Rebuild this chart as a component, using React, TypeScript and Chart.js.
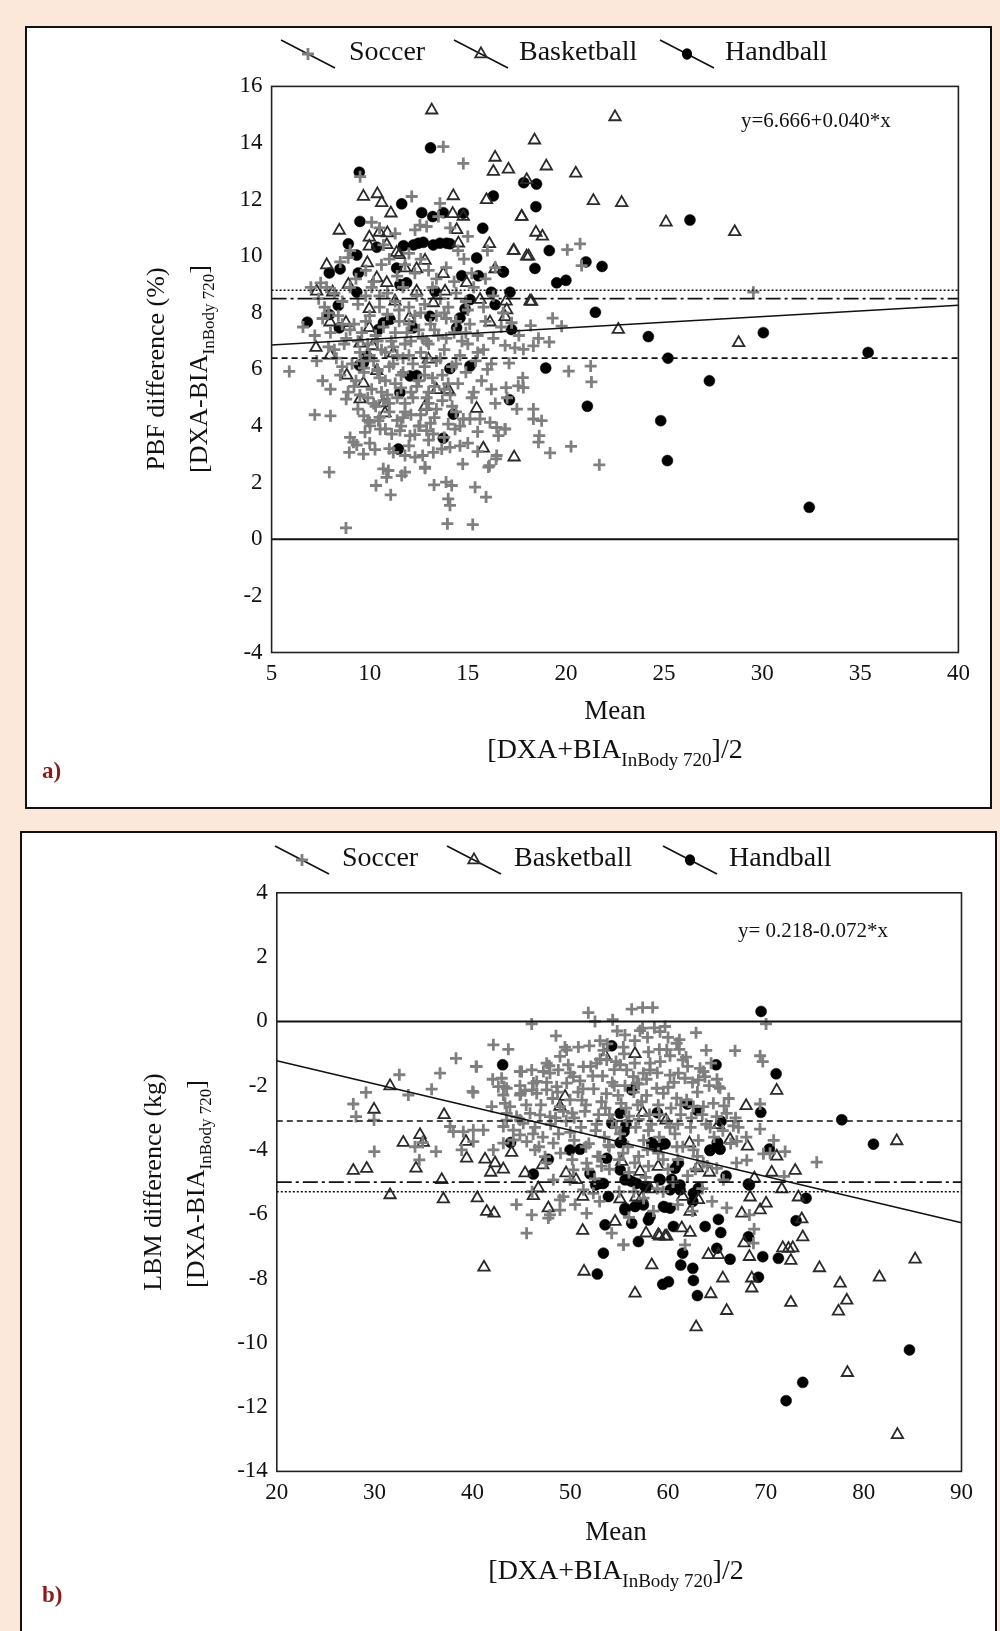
import React, { useEffect, useRef } from "react";
import { Chart, registerables } from "chart.js";

Chart.register(...registerables);

// ---------------- Panel a data (PBF) ----------------
const aXTicks = [5, 10, 15, 20, 25, 30, 35, 40];
const aYTicks = [-4, -2, 0, 2, 4, 6, 8, 10, 12, 14, 16];
const aDottedLevel = 8.8;
const aDashDotLevel = 8.5;
const aDashedLevel = 6.4;
const aRegression = [6.666, 0.04]; // intercept, slope
const aEquation = "y=6.666+0.040*x";

const aSoccer: number[][] = [
  [13.75, 13.87], [14.77, 13.28], [9.51, 12.81], [12.14, 12.11], [13.58, 11.87], [12.9, 11.05], [12.31, 10.93], [12.56, 11.1], [10.1, 11.2], [10.5, 11.0], [13.5, 11.4], [14.1, 11.0], [15.0, 10.7], [11.3, 10.8],
  [8.5, 9.8], [8.9, 9.95], [9.3, 9.2], [9.8, 9.5], [10.2, 9.1], [10.6, 9.7], [11.0, 9.9], [11.4, 9.3], [11.8, 9.7], [12.3, 9.4], [12.6, 9.9], [13.0, 9.5], [13.4, 9.2], [13.9, 9.6], [14.3, 9.1], [14.8, 9.9], [15.2, 9.4], [15.9, 9.2], [16.4, 9.6], [7.5, 9.06], [7.8, 8.9], [20.07, 10.23], [20.72, 10.44], [20.8, 9.67], [10.7, 10.4], [9.0, 10.2], [12.0, 10.1], [14.5, 10.2], [16.0, 10.2],
  [7.0, 8.9], [7.4, 8.5], [7.7, 8.2], [8.2, 8.7], [8.6, 8.4], [9.0, 8.9], [9.4, 8.3], [9.8, 8.6], [10.1, 8.9], [10.5, 8.2], [10.9, 8.7], [11.3, 8.4], [11.7, 8.9], [12.0, 8.2], [12.4, 8.6], [12.8, 8.3], [13.2, 8.9], [13.6, 8.5], [14.0, 8.2], [14.4, 8.7], [14.9, 8.4], [15.3, 8.9], [15.8, 8.2], [16.3, 8.6], [16.8, 8.0], [29.55, 8.73], [7.9, 8.0],
  [6.6, 7.5], [7.2, 7.2], [7.6, 7.8], [8.0, 7.3], [8.4, 7.9], [8.8, 7.1], [9.2, 7.6], [9.6, 7.3], [10.0, 7.9], [10.3, 7.2], [10.7, 7.5], [11.1, 7.0], [11.5, 7.7], [11.9, 7.3], [12.3, 7.9], [12.7, 7.1], [13.1, 7.6], [13.5, 7.2], [13.9, 7.8], [14.3, 7.3], [14.7, 7.0], [15.1, 7.6], [15.5, 7.2], [15.9, 7.7], [16.3, 7.1], [16.7, 7.5], [17.23, 7.65], [18.2, 7.55], [19.32, 7.81], [19.78, 7.53], [17.6, 7.2], [18.6, 7.1], [10.9, 7.95], [12.0, 7.6], [13.3, 7.4],
  [7.3, 6.3], [7.9, 6.8], [8.3, 6.4], [8.7, 6.9], [9.1, 6.2], [9.5, 6.6], [9.9, 6.9], [10.2, 6.3], [10.6, 6.7], [11.0, 6.1], [11.4, 6.5], [11.8, 6.9], [12.2, 6.2], [12.6, 6.6], [13.0, 6.9], [13.4, 6.3], [13.8, 6.7], [14.2, 6.1], [14.6, 6.5], [15.0, 6.9], [15.4, 6.3], [15.8, 6.7], [16.2, 6.2], [16.9, 6.85], [17.4, 6.76], [17.83, 6.71], [18.34, 6.83], [19.15, 6.97], [17.1, 6.22], [21.26, 6.12], [10.0, 6.5], [11.2, 6.8], [12.9, 6.4], [8.6, 6.1], [9.7, 6.05],
  [5.9, 5.93], [7.6, 5.6], [8.0, 5.3], [8.5, 5.8], [8.9, 5.2], [9.3, 5.6], [9.7, 5.9], [10.1, 5.3], [10.5, 5.7], [10.9, 5.1], [11.3, 5.5], [11.7, 5.9], [12.1, 5.2], [12.5, 5.6], [12.9, 5.0], [13.3, 5.4], [13.7, 5.8], [14.1, 5.1], [14.5, 5.5], [14.9, 5.9], [15.3, 5.2], [15.7, 5.6], [16.2, 5.3], [17.8, 5.71], [16.95, 5.36], [17.57, 5.42], [17.83, 5.36], [20.14, 5.94], [21.3, 5.56], [10.4, 5.95], [11.6, 5.35], [12.8, 5.8], [9.9, 5.0],
  [8.0, 4.36], [8.8, 4.95], [9.5, 5.1], [9.7, 4.36], [10.0, 4.13], [10.3, 4.7], [10.7, 4.9], [11.0, 4.5], [11.4, 4.2], [11.8, 4.8], [12.1, 4.4], [12.5, 4.0], [12.9, 4.6], [13.3, 4.3], [13.7, 4.9], [14.0, 4.07], [14.4, 4.5], [14.77, 4.25], [15.11, 4.25], [15.62, 4.25], [16.13, 4.13], [16.47, 3.95], [16.9, 3.89], [16.56, 3.66], [18.34, 4.6], [18.34, 4.25], [18.76, 4.19], [10.5, 4.31], [11.6, 4.0], [13.0, 4.8], [7.2, 4.4],
  [8.96, 3.07], [9.17, 3.43], [9.34, 3.33], [9.68, 3.01], [10.27, 3.17], [9.76, 3.78], [10.02, 4.01], [10.44, 4.19], [10.53, 3.89], [11.12, 3.72], [11.54, 3.84], [12.05, 3.66], [12.56, 4.01], [12.9, 3.84], [13.24, 3.72], [14.35, 3.89], [11.2, 3.07], [11.8, 2.96], [12.31, 2.9], [12.7, 2.96], [13.24, 3.07], [13.67, 3.19], [14.09, 3.25], [16.9, 3.9], [18.64, 3.66], [18.6, 3.43], [19.19, 3.05], [20.26, 3.28], [16.47, 2.96], [15.0, 3.4], [15.5, 3.1],
  [7.94, 2.37], [8.79, 0.4], [10.69, 2.49], [10.86, 2.19], [10.95, 2.43], [11.63, 2.25], [11.8, 2.37], [10.32, 1.9], [11.07, 1.57], [12.82, 2.51], [13.28, 1.92], [13.89, 2.02], [14.18, 1.9], [14.0, 1.43], [14.09, 1.2], [14.74, 2.66], [15.37, 1.84], [15.93, 1.49], [16.1, 2.6], [16.44, 2.84], [13.96, 0.55], [15.25, 0.52], [21.7, 2.63], [16.05, 2.55], [12.82, 2.55],
  [9.2, 5.4], [9.6, 6.3], [10.4, 6.0], [10.8, 5.6], [11.2, 6.2], [11.6, 5.8], [12.0, 6.5], [12.4, 5.4], [12.8, 6.1], [13.2, 5.7], [13.6, 6.4], [14.0, 5.5], [14.4, 6.2], [10.2, 4.8], [10.6, 5.2], [11.0, 4.8], [11.4, 5.0], [11.8, 4.5], [12.2, 5.0], [12.6, 4.4], [13.0, 5.2], [13.4, 4.6], [13.8, 5.3], [14.2, 4.7], [9.4, 4.6], [9.9, 4.2], [10.8, 3.9], [11.7, 4.3], [12.3, 3.7], [13.1, 4.1], [13.8, 3.6], [14.6, 4.0], [9.4, 7.0], [9.8, 7.7], [10.4, 7.0], [10.8, 6.6], [11.3, 7.3], [11.7, 6.4], [12.1, 7.0], [12.5, 7.4], [12.9, 7.0], [13.4, 7.9], [13.9, 7.1], [14.4, 7.7], [14.9, 7.3], [9.0, 7.4], [8.6, 7.6], [8.2, 6.7], [10.5, 8.6], [11.5, 8.1], [12.6, 8.0], [13.8, 8.0], [15.0, 8.1], [15.5, 6.6], [16.0, 6.0], [15.2, 5.0], [16.4, 4.8], [17.0, 5.0], [17.5, 4.6], [9.0, 3.6], [10.0, 3.4], [11.0, 3.2], [12.0, 3.3], [13.0, 3.5], [14.6, 3.3], [15.5, 3.8],
];

const aBasketball: number[][] = [
  [13.16, 15.16], [16.39, 13.49], [16.3, 12.99], [17.07, 13.07], [9.68, 12.11], [10.39, 12.2], [10.61, 11.89], [11.08, 11.52], [14.26, 12.13], [14.23, 11.5], [14.77, 11.4], [15.95, 11.99], [17.75, 11.4], [8.45, 10.91], [9.98, 10.67], [10.49, 10.84], [10.9, 10.82], [9.98, 10.35], [10.87, 10.4], [11.37, 10.13], [11.51, 10.05], [12.82, 9.85], [14.43, 10.93], [14.52, 10.46], [16.1, 10.44], [17.32, 10.2], [18.0, 10.0], [7.81, 9.69], [9.88, 9.76], [11.8, 9.58], [12.39, 9.55], [16.39, 9.55], [8.91, 9.0], [10.36, 9.23], [10.87, 9.06], [13.75, 9.38], [14.94, 9.06], [7.3, 8.76], [8.11, 8.73], [12.39, 8.76], [13.84, 8.76], [15.62, 8.47], [16.95, 8.41], [18.17, 8.41], [9.98, 8.14], [11.29, 8.41], [13.24, 8.35], [7.98, 7.67], [8.79, 7.65], [12.02, 7.82], [16.13, 7.67], [9.98, 7.47], [7.26, 6.77], [7.98, 6.5], [9.51, 6.92], [10.15, 6.83], [11.2, 6.57], [12.99, 6.36], [8.83, 5.79], [9.68, 5.51], [10.36, 5.95], [13.41, 5.28], [14.01, 5.28], [9.51, 4.95], [10.7, 4.81], [12.82, 4.69], [15.45, 4.62], [10.78, 4.46], [15.79, 3.21], [17.36, 2.9],
  [22.5, 14.92], [18.4, 14.1], [19.0, 13.18], [20.5, 12.93], [21.4, 11.96], [22.84, 11.89], [25.1, 11.2], [28.6, 10.86], [17.74, 11.4], [18.47, 10.84], [18.8, 10.7], [17.35, 10.2], [18.1, 10.0], [18.25, 8.4], [16.98, 8.1], [16.9, 7.86], [22.67, 7.41], [28.8, 6.94], [18.0, 12.7],
];

const aHandball: number[][] = [
  [9.47, 12.97], [13.1, 13.83], [9.5, 11.23], [11.63, 11.85], [12.65, 11.54], [13.21, 11.4], [13.75, 11.54], [14.77, 11.52], [16.3, 12.13], [15.76, 10.99], [17.85, 12.6], [18.5, 12.55], [18.47, 11.75], [26.32, 11.28], [19.15, 10.2], [16.8, 9.45], [18.42, 9.57], [21.02, 9.8], [21.84, 9.64], [19.53, 9.06], [20.0, 9.15], [17.15, 8.73], [21.5, 8.02], [17.23, 7.41], [24.2, 7.16], [30.06, 7.3], [25.2, 6.4], [35.4, 6.6], [18.97, 6.05], [27.31, 5.6], [17.12, 4.93], [21.09, 4.7], [24.83, 4.19], [25.17, 2.78], [32.4, 1.13],
  [8.91, 10.44], [10.36, 10.32], [11.72, 10.37], [12.23, 10.4], [12.48, 10.46], [12.73, 10.49], [13.24, 10.4], [13.58, 10.46], [13.92, 10.46], [14.09, 10.44], [9.34, 10.04], [15.45, 9.94], [7.94, 9.41], [8.49, 9.55], [9.42, 9.41], [11.37, 9.58], [14.69, 9.31], [15.54, 9.31], [16.81, 9.45], [11.88, 9.06], [11.54, 9.0], [13.33, 8.76], [16.2, 8.73], [9.34, 8.73], [8.4, 8.26], [15.11, 8.47], [14.86, 8.14], [16.39, 8.29], [6.82, 7.67], [7.94, 7.94], [8.45, 7.47], [11.03, 7.77], [10.44, 7.41], [12.22, 7.47], [14.43, 7.47], [14.6, 7.82], [13.07, 7.88], [10.7, 7.65], [9.85, 6.47], [9.68, 6.24], [9.47, 6.15], [14.09, 6.03], [15.11, 6.12], [12.39, 5.79], [12.05, 5.77], [11.54, 5.18], [14.26, 4.42], [13.75, 3.57], [11.46, 3.19],
];

// ---------------- Panel b data (LBM) ----------------
const bXTicks = [20, 30, 40, 50, 60, 70, 80, 90];
const bYTicks = [-14, -12, -10, -8, -6, -4, -2, 0, 2, 4];
const bDashedLevel = -3.1;
const bDashDotLevel = -5.0;
const bDottedLevel = -5.3;
const bRegression = [0.218, -0.072];
const bEquation = "y= 0.218-0.072*x";

const bSoccer: number[][] = [
  [46.06, -0.08], [51.85, 0.27], [52.53, 0.0], [54.34, 0.05], [56.28, 0.38], [57.4, 0.43], [58.43, 0.43], [70.02, -0.08],
  [48.54, -0.45], [55.6, -0.42], [57.13, -0.29], [57.4, -0.21], [59.18, -0.32], [59.69, -0.16], [62.86, -0.35], [42.14, -0.73], [43.67, -0.87], [49.46, -0.8], [50.83, -0.8], [51.95, -0.76], [53.04, -0.6], [53.79, -0.7], [55.43, -0.8], [55.5, -1.01], [59.11, -0.87], [60.88, -0.68], [61.15, -0.87], [66.85, -0.91], [49.63, -0.89], [56.6, -0.6], [58.0, -0.95], [60.2, -1.07], [61.5, -1.2], [61.84, -1.11], [61.16, -0.57], [59.87, -0.88],
  [38.32, -1.15], [40.37, -1.4], [36.69, -1.61], [32.53, -1.66], [40.43, -1.41], [42.07, -1.8], [45.03, -1.56], [46.06, -1.51], [47.25, -1.56], [44.86, -1.56], [47.86, -1.38], [48.95, -1.09], [48.78, -1.51], [47.93, -1.61], [46.57, -1.87], [47.59, -1.3], [50.32, -1.72], [51.34, -1.41], [52.7, -1.3], [53.73, -1.2], [53.04, -1.18], [54.68, -1.25], [55.77, -1.51], [56.45, -1.72], [57.47, -1.61], [58.15, -1.51], [60.2, -1.67], [61.05, -1.61], [61.73, -1.77], [63.27, -1.46], [63.78, -1.72], [69.41, -1.07], [69.68, -1.25], [42.99, -1.77], [46.23, -1.92], [49.64, -1.92], [51.0, -1.85], [52.3, -1.7], [54.3, -1.9], [55.1, -1.35], [59.2, -1.25], [62.5, -1.9], [64.4, -1.3], [49.8, -1.35], [58.16, -1.3], [56.8, -1.92], [63.1, -1.82], [63.61, -1.56],
  [27.82, -2.57], [28.1, -2.96], [29.12, -2.21], [29.94, -3.07], [33.45, -2.29], [35.83, -2.11], [40.09, -2.21], [43.23, -2.03], [40.02, -2.18], [41.97, -2.65], [42.65, -2.03], [43.5, -2.08], [44.86, -2.0], [45.37, -2.15], [43.16, -2.29], [43.33, -2.55], [44.86, -2.29], [43.5, -2.86], [44.93, -2.24], [46.13, -2.13], [46.57, -2.24], [47.59, -2.13], [48.61, -2.03], [43.84, -2.65], [45.89, -2.86], [46.91, -2.91], [47.93, -2.96], [48.95, -2.65], [49.98, -2.44], [50.8, -2.2], [51.6, -2.6], [52.4, -2.1], [53.2, -2.5], [54.0, -2.9], [54.9, -2.3], [55.7, -2.7], [56.5, -2.2], [57.3, -2.5], [58.1, -2.9], [58.84, -2.08], [59.52, -2.24], [60.3, -2.7], [60.88, -2.39], [61.9, -2.44], [62.59, -2.65], [63.61, -2.65], [64.63, -2.55], [64.97, -2.96], [65.99, -2.86], [65.31, -2.08], [69.41, -2.57], [50.2, -2.85], [52.9, -2.9], [56.0, -2.95], [57.8, -2.3], [59.0, -2.6], [61.3, -2.9], [51.2, -2.45], [53.7, -2.25], [55.2, -2.55], [65.15, -2.03], [65.73, -2.63], [54.5, -2.0], [57.0, -1.95], [60.0, -2.05],
  [34.13, -3.9], [34.91, -3.77], [37.71, -3.27], [38.05, -3.43], [39.07, -3.43], [40.09, -3.38], [41.12, -3.38], [40.09, -3.74], [43.16, -3.79], [43.16, -3.27], [44.18, -3.38], [44.52, -2.96], [45.2, -3.17], [43.5, -3.07], [44.18, -3.69], [44.86, -3.53], [45.55, -3.74], [44.86, -3.07], [48.27, -3.79], [46.4, -3.3], [47.2, -3.6], [48.0, -3.2], [48.8, -3.5], [49.6, -3.1], [50.4, -3.7], [51.1, -3.3], [51.9, -3.8], [52.7, -3.2], [53.5, -3.6], [54.3, -3.1], [55.1, -3.5], [55.9, -3.9], [56.7, -3.3], [57.5, -3.7], [58.3, -3.2], [59.1, -3.6], [59.9, -3.1], [60.7, -3.5], [61.5, -3.9], [62.3, -3.3], [63.1, -3.7], [63.9, -3.2], [64.7, -3.6], [65.6, -3.4], [66.4, -3.8], [67.2, -3.3], [68.0, -3.6], [69.4, -3.35], [70.8, -3.7], [66.68, -3.25], [67.03, -3.73], [50.0, -3.45], [53.9, -3.85], [57.0, -3.05], [61.0, -3.2], [46.8, -3.9],
  [29.97, -4.05], [34.57, -4.31], [36.28, -4.05], [38.9, -4.0], [42.14, -4.0], [46.4, -4.0], [47.42, -4.21], [48.27, -4.93], [49.98, -4.93], [50.32, -4.62], [51.68, -4.41], [53.05, -4.21], [54.0, -4.6], [55.0, -4.3], [56.0, -4.7], [57.0, -4.2], [58.0, -4.5], [59.0, -4.1], [60.0, -4.6], [61.0, -4.3], [62.0, -4.8], [63.0, -4.2], [64.0, -4.5], [64.98, -4.57], [65.66, -4.93], [67.0, -4.4], [68.05, -4.32], [69.75, -4.12], [70.43, -4.1], [71.97, -4.05], [75.2, -4.38], [71.87, -4.82], [52.5, -4.9], [57.7, -4.85],
  [46.06, -6.02], [47.93, -6.02], [48.95, -5.87], [47.76, -6.12], [45.54, -6.59], [51.68, -5.97], [54.24, -6.59], [55.43, -6.95], [48.95, -5.55], [49.3, -5.45], [51.34, -5.24], [52.36, -5.35], [50.5, -5.7], [53.0, -5.6], [55.0, -5.3], [56.0, -6.1], [57.5, -5.5], [58.5, -5.9], [59.5, -5.3], [61.0, -5.7], [62.5, -5.9], [63.5, -5.2], [64.5, -5.6], [66.0, -5.8], [68.32, -6.02], [68.8, -6.46], [68.73, -6.9], [61.74, -6.95], [55.44, -6.95], [46.1, -5.3], [44.5, -5.7],
  [47.0, -2.6], [48.2, -2.4], [49.3, -2.8], [50.4, -3.0], [51.5, -2.8], [52.6, -3.4], [53.6, -2.7], [54.7, -3.3], [55.8, -3.1], [56.9, -2.6], [58.0, -3.4], [59.1, -2.9], [60.2, -3.3], [61.3, -2.6], [62.4, -3.0], [63.5, -2.9], [64.3, -3.3], [47.6, -1.9], [48.7, -2.2], [50.0, -1.6], [51.3, -2.1], [52.1, -1.4], [53.3, -1.7], [54.5, -1.5], [55.6, -2.0], [56.6, -1.3], [57.8, -1.8], [58.9, -1.6], [60.6, -1.9], [62.0, -1.4], [63.0, -2.2], [64.2, -2.0], [49.0, -4.1], [50.2, -4.3], [51.6, -3.9], [52.8, -4.2], [54.0, -3.9], [55.4, -4.1], [56.6, -4.4], [57.9, -4.0], [59.5, -4.3], [60.9, -3.9], [62.6, -4.0], [63.6, -4.4], [45.5, -2.6], [46.2, -3.5], [47.5, -4.4], [48.5, -3.0], [53.4, -0.9], [54.8, -0.3], [57.9, -0.5], [58.6, -0.2], [60.0, -0.5], [63.9, -0.9], [65.0, -1.8], [66.2, -2.4], [66.9, -3.0], [51.8, -4.6], [53.2, -4.5], [56.5, -5.3], [58.9, -5.2], [60.5, -5.0], [62.8, -4.6],
];

const bBasketball: number[][] = [
  [31.58, -2.01], [29.94, -2.74], [27.82, -4.64], [29.19, -4.58], [31.58, -5.4], [32.93, -3.77], [34.64, -3.53], [34.98, -3.77], [34.23, -4.57], [37.1, -2.91], [36.86, -4.93], [37.03, -5.53], [39.34, -3.74], [39.41, -4.26], [40.5, -5.5], [41.29, -4.29], [41.87, -4.7], [42.31, -4.41], [41.46, -5.92], [42.21, -5.97], [43.16, -4.6], [44.0, -4.08], [41.18, -7.65], [45.38, -4.72], [46.23, -5.43], [47.18, -4.47], [46.74, -5.19], [47.76, -5.81], [49.47, -2.34], [48.95, -2.65], [49.57, -4.72], [50.59, -4.93], [51.27, -5.45], [51.27, -6.51], [51.41, -7.78], [53.56, -1.07], [56.62, -1.01], [54.58, -6.23], [55.09, -5.53], [56.62, -8.46], [58.33, -7.58], [57.41, -2.84], [57.75, -6.59], [59.0, -6.64], [59.69, -6.69], [59.79, -3.08], [56.72, -5.47], [57.3, -5.5], [55.26, -4.36], [58.16, -5.22], [59.0, -4.52], [57.14, -4.67],
  [71.11, -2.15], [67.98, -2.63], [65.15, -3.22], [66.34, -3.68], [68.12, -3.89], [71.11, -4.2], [70.6, -4.7], [73.0, -4.64], [83.38, -3.72], [63.0, -4.56], [62.19, -3.79], [64.23, -4.7], [68.83, -4.88], [71.63, -5.22], [61.5, -5.45], [63.1, -5.55], [73.33, -5.47], [68.39, -5.47], [70.02, -5.66], [69.41, -5.87], [67.54, -5.97], [62.25, -5.92], [73.67, -6.15], [73.77, -6.71], [59.12, -6.69], [59.87, -6.69], [61.4, -6.43], [62.25, -6.57], [64.13, -7.26], [65.15, -7.26], [67.77, -6.9], [68.32, -7.32], [71.73, -7.05], [72.31, -7.07], [72.75, -7.05], [72.55, -7.44], [85.26, -7.4], [75.48, -7.67], [65.6, -7.99], [68.56, -7.99], [81.61, -7.96], [64.37, -8.48], [68.56, -8.3], [77.59, -8.15], [78.27, -8.68], [77.42, -9.02], [72.55, -8.75], [66.0, -9.0], [62.87, -9.51], [78.34, -10.93], [83.45, -12.86],
];

const bHandball: number[][] = [
  [43.09, -1.35], [54.24, -0.76], [69.51, 0.31], [64.91, -1.35], [71.05, -1.63], [56.29, -2.13], [58.91, -2.84], [61.98, -2.57], [63.0, -2.77], [69.48, -2.83], [65.42, -3.11], [77.76, -3.06], [81.0, -3.82], [70.36, -3.97], [64.3, -4.0], [65.32, -3.98], [65.05, -3.77], [55.1, -3.77], [53.73, -4.26], [58.33, -3.77], [58.67, -3.9], [59.53, -3.81], [60.72, -4.57], [61.06, -4.41], [65.93, -4.81], [68.32, -5.09], [53.39, -5.04], [55.95, -4.93], [56.8, -5.04], [57.82, -5.14], [59.19, -4.93], [60.21, -5.24], [61.23, -5.24], [62.59, -5.35], [63.1, -5.19], [74.11, -5.5], [53.9, -5.45], [56.63, -5.76], [57.48, -5.71], [59.53, -5.76], [60.21, -5.81], [62.53, -5.6], [55.61, -5.81], [73.09, -6.2], [53.56, -6.33], [57.99, -6.18], [58.16, -6.07], [56.29, -6.28], [60.55, -6.38], [65.15, -6.16], [63.79, -6.38], [65.39, -6.57], [68.22, -6.7], [56.97, -6.85], [53.39, -7.21], [61.5, -7.21], [64.98, -7.06], [66.34, -7.4], [69.68, -7.32], [71.28, -7.37], [61.3, -7.58], [62.53, -7.68], [52.77, -7.86], [62.59, -8.06], [59.46, -8.18], [60.04, -8.1], [63.0, -8.53], [69.24, -7.96], [84.68, -10.22], [73.77, -11.23], [72.07, -11.8],
  [43.9, -3.77], [47.76, -4.29], [49.98, -4.0], [51.0, -3.98], [46.23, -4.75], [52.02, -4.74], [52.6, -5.09], [55.6, -5.87], [54.24, -3.17], [55.1, -2.86], [55.5, -3.43], [55.7, -3.22], [55.26, -3.74], [59.0, -3.89], [59.7, -3.81], [53.05, -5.04], [55.6, -4.93], [56.28, -4.98], [59.11, -4.91], [60.37, -4.91], [61.22, -5.09], [65.04, -3.77], [64.29, -4.02], [68.21, -5.06], [55.1, -4.62], [57.64, -5.14], [59.69, -5.78],
];

// ---------------- Layout / style ----------------
const SERIF = '"Liberation Serif", "Times New Roman", "DejaVu Serif", serif';
const BG = "#fbe8da";
const SOCCER_COLOR = "#7f7f7f";
const TRI_COLOR = "#2a2a2a";

type Panel = {
  canvas: { left: number; top: number; width: number; height: number };
  yAxisW: number; padTop: number; padRight: number; xAxisH: number;
  xTicks: number[]; yTicks: number[];
  soccer: number[][]; basketball: number[][]; handball: number[][];
  dotted: number; dashDot: number; dashed: number; reg: number[];
  legendY: number; legendLines: number[];
};

const panelA: Panel = {
  canvas: { left: 25, top: 26, width: 967, height: 783 },
  yAxisW: 246.6, padTop: 60.4, padRight: 33.6, xAxisH: 156.5,
  xTicks: aXTicks, yTicks: aYTicks,
  soccer: aSoccer, basketball: aBasketball, handball: aHandball,
  dotted: aDottedLevel, dashDot: aDashDotLevel, dashed: aDashedLevel, reg: aRegression,
  legendY: 54, legendLines: [281, 454, 660],
};

const panelB: Panel = {
  canvas: { left: 20, top: 831, width: 977, height: 800 },
  yAxisW: 256.8, padTop: 61.8, padRight: 35.5, xAxisH: 159.6,
  xTicks: bXTicks, yTicks: bYTicks,
  soccer: bSoccer, basketball: bBasketball, handball: bHandball,
  dotted: bDottedLevel, dashDot: bDashDotLevel, dashed: bDashedLevel, reg: bRegression,
  legendY: 860, legendLines: [275, 447, 663],
};

const CROSS_R = 6;
const CROSS_W = 2.8;
const TRI_R = 6.6;
const TRI_W = 1.8;
const DOT_R = 5.5;

function drawMarker(ctx: CanvasRenderingContext2D, kind: number, x: number, y: number) {
  ctx.save();
  if (kind === 0) {
    ctx.strokeStyle = SOCCER_COLOR; ctx.lineWidth = CROSS_W;
    ctx.beginPath(); ctx.moveTo(x - CROSS_R, y); ctx.lineTo(x + CROSS_R, y); ctx.moveTo(x, y - CROSS_R); ctx.lineTo(x, y + CROSS_R); ctx.stroke();
  } else if (kind === 1) {
    ctx.strokeStyle = TRI_COLOR; ctx.lineWidth = TRI_W;
    const r = TRI_R;
    ctx.beginPath();
    ctx.moveTo(x, y - r);
    ctx.lineTo(x + r * 0.866, y + r * 0.5);
    ctx.lineTo(x - r * 0.866, y + r * 0.5);
    ctx.closePath(); ctx.stroke();
  } else {
    ctx.fillStyle = "#000";
    ctx.beginPath(); ctx.ellipse(x, y, DOT_R - 0.4, DOT_R + 0.3, 0, 0, Math.PI * 2); ctx.fill();
  }
  ctx.restore();
}

function PanelChart({ p }: { p: Panel }) {
  const ref = useRef<HTMLCanvasElement>(null);
  useEffect(() => {
    if (!ref.current) return;
    const xMin = p.xTicks[0];
    const xMax = p.xTicks[p.xTicks.length - 1];
    const yMin = p.yTicks[0];
    const yMax = p.yTicks[p.yTicks.length - 1];
    const pts = (arr: number[][]) => arr.map(([x, y]) => ({ x, y }));
    const hline = (y: number, dash: number[], w: number) => ({
      data: [{ x: xMin, y }, { x: xMax, y }],
      showLine: true, borderColor: "#111", borderWidth: w, borderDash: dash,
      pointRadius: 0, fill: false, order: 0,
    });
    const framePlugin = {
      id: "frameAndLegend",
      afterDraw(chart: any) {
        const { ctx, chartArea } = chart;
        ctx.save();
        ctx.strokeStyle = "#222";
        ctx.lineWidth = 1.6;
        ctx.strokeRect(chartArea.left, chartArea.top, chartArea.right - chartArea.left, chartArea.bottom - chartArea.top);
        p.legendLines.forEach((lx, i) => {
          const x1 = lx - p.canvas.left;
          const y1 = p.legendY - 14 - p.canvas.top;
          const x2 = x1 + 54;
          const y2 = y1 + 28;
          ctx.strokeStyle = "#111";
          ctx.lineWidth = 1.6;
          ctx.beginPath(); ctx.moveTo(x1, y1); ctx.lineTo(x2, y2); ctx.stroke();
          drawMarker(ctx, i, (x1 + x2) / 2, (y1 + y2) / 2);
        });
        ctx.restore();
      },
    };
    const tickFont = { family: SERIF, size: 23 };
    const chart = new Chart(ref.current, {
      type: "scatter",
      data: {
        datasets: [
          hline(0, [], 2) as any,
          {
            data: [{ x: xMin, y: p.reg[0] + p.reg[1] * xMin }, { x: xMax, y: p.reg[0] + p.reg[1] * xMax }],
            showLine: true, borderColor: "#111", borderWidth: 1.6, pointRadius: 0, fill: false, order: 0,
          },
          hline(p.dotted, [2, 2], 1.6),
          hline(p.dashDot, [15, 4, 3, 4], 1.8),
          hline(p.dashed, [6, 4], 1.6),
          {
            label: "Soccer", data: pts(p.soccer), pointStyle: "cross", pointRadius: CROSS_R,
            pointBorderColor: SOCCER_COLOR, pointBackgroundColor: SOCCER_COLOR, pointBorderWidth: CROSS_W,
            borderColor: SOCCER_COLOR, backgroundColor: SOCCER_COLOR, borderWidth: CROSS_W, order: 1,
          },
          {
            label: "Basketball", data: pts(p.basketball), pointStyle: "triangle", pointRadius: TRI_R,
            pointBorderColor: TRI_COLOR, pointBackgroundColor: "rgba(255,255,255,0)", pointBorderWidth: TRI_W,
            borderColor: TRI_COLOR, backgroundColor: "rgba(255,255,255,0)", borderWidth: TRI_W, order: 2,
          },
          {
            label: "Handball", data: pts(p.handball), pointStyle: "circle", pointRadius: DOT_R,
            pointBorderColor: "#000", pointBackgroundColor: "#000", pointBorderWidth: 0.5,
            borderColor: "#000", backgroundColor: "#000", order: 3,
          },
        ],
      },
      options: {
        responsive: false,
        animation: false,
        events: [],
        layout: { padding: { left: 0, top: p.padTop, right: p.padRight, bottom: 0 } },
        plugins: { legend: { display: false }, tooltip: { enabled: false }, title: { display: false } },
        scales: {
          x: {
            type: "linear", min: xMin, max: xMax,
            afterFit: (s: any) => { s.height = p.xAxisH; },
            afterBuildTicks: (s: any) => { s.ticks = p.xTicks.map((v) => ({ value: v })); },
            grid: { display: false, drawTicks: false },
            border: { display: false },
            ticks: { font: tickFont, color: "#111", padding: 8, maxRotation: 0, autoSkip: false },
          },
          y: {
            type: "linear", min: yMin, max: yMax,
            afterFit: (s: any) => { s.width = p.yAxisW; },
            afterBuildTicks: (s: any) => { s.ticks = p.yTicks.map((v) => ({ value: v })); },
            grid: { display: false, drawTicks: false },
            border: { display: false },
            ticks: { font: tickFont, color: "#111", padding: 9, autoSkip: false },
          },
        },
      } as any,
      plugins: [framePlugin],
    });
    return () => chart.destroy();
  }, [p]);
  return (
    <canvas
      ref={ref}
      width={p.canvas.width}
      height={p.canvas.height}
      style={{ position: "absolute", left: p.canvas.left, top: p.canvas.top, width: p.canvas.width, height: p.canvas.height }}
    />
  );
}

type TxtProps = {
  x: number; y: number; size: number; children: React.ReactNode;
  center?: boolean; rotate?: boolean; bold?: boolean; color?: string;
};
function Txt({ x, y, size, children, center, rotate, bold, color }: TxtProps) {
  let transform = center || rotate ? "translate(-50%, -50%)" : "translate(0, -50%)";
  if (rotate) transform += " rotate(-90deg)";
  return (
    <div
      style={{
        position: "absolute", left: x, top: y, transform, whiteSpace: "nowrap",
        fontFamily: SERIF, fontSize: size, lineHeight: 1, color: color || "#111",
        fontWeight: bold ? "bold" : "normal",
      }}
    >
      {children}
    </div>
  );
}

const Sub = ({ children, size, shift }: { children: React.ReactNode; size: number; shift: number }) => (
  <span style={{ fontSize: size, position: "relative", top: shift }}>{children}</span>
);

function Legend({ y, xs }: { y: number; xs: number[] }) {
  return (
    <>
      <Txt x={xs[0]} y={y} size={28}>Soccer</Txt>
      <Txt x={xs[1]} y={y} size={28}>Basketball</Txt>
      <Txt x={xs[2]} y={y} size={28}>Handball</Txt>
    </>
  );
}

export default function App() {
  return (
    <div style={{ position: "absolute", left: 0, top: 0, width: 1000, height: 1631, background: BG, overflow: "hidden" }}>
      {/* Panel a */}
      <div style={{ position: "absolute", left: 25, top: 26, width: 967, height: 783, boxSizing: "border-box", border: "2px solid #111", background: "#fff" }} />
      <PanelChart p={panelA} />
      <Legend y={51} xs={[349, 519, 725]} />
      <Txt x={741} y={120} size={21}>{aEquation}</Txt>
      <Txt x={156} y={369} size={26} rotate>PBF difference (%)</Txt>
      <Txt x={199} y={369} size={26} rotate>
        [DXA-BIA<Sub size={17} shift={7}>InBody 720</Sub>]
      </Txt>
      <Txt x={615} y={710} size={27} center>Mean</Txt>
      <Txt x={615} y={749} size={28} center>
        [DXA+BIA<Sub size={19} shift={8}>InBody 720</Sub>]/2
      </Txt>
      <Txt x={42} y={770} size={23} bold color="#8b1a1a">a)</Txt>

      {/* Panel b */}
      <div style={{ position: "absolute", left: 20, top: 831, width: 977, height: 830, boxSizing: "border-box", border: "2px solid #111", background: "#fff" }} />
      <PanelChart p={panelB} />
      <Legend y={857} xs={[342, 514, 729]} />
      <Txt x={738} y={930} size={21}>{bEquation}</Txt>
      <Txt x={153} y={1182} size={26} rotate>LBM difference (kg)</Txt>
      <Txt x={196} y={1184} size={26} rotate>
        [DXA-BIA<Sub size={17} shift={7}>InBody 720</Sub>]
      </Txt>
      <Txt x={616} y={1531} size={27} center>Mean</Txt>
      <Txt x={616} y={1570} size={28} center>
        [DXA+BIA<Sub size={19} shift={8}>InBody 720</Sub>]/2
      </Txt>
      <Txt x={42} y={1594} size={23} bold color="#8b1a1a">b)</Txt>
    </div>
  );
}
